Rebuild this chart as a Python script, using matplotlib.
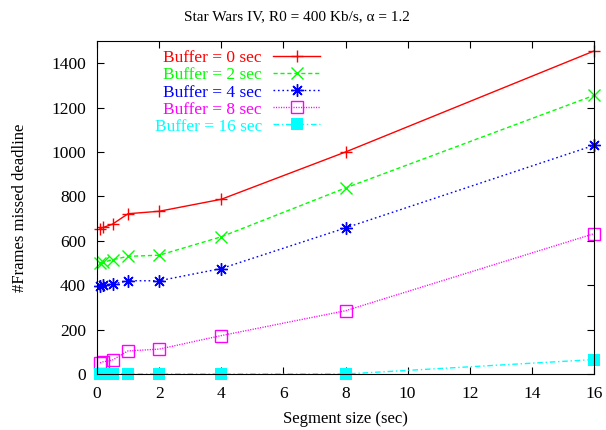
import matplotlib
matplotlib.use("Agg")
import matplotlib.pyplot as plt

plt.rcParams['font.family'] = ['Liberation Serif', 'DejaVu Serif']

# segment sizes (sec)
seg = [0.1, 0.2, 0.5, 1, 2, 4, 8, 16]

buf0 = [655, 660, 675, 722, 733, 787, 1000, 1455]
buf2 = [500, 503, 515, 530, 535, 618, 838, 1255]
buf4 = [398, 400, 405, 420, 420, 475, 658, 1030]
buf8 = [50, 55, 63, 104, 112, 173, 285, 632]
buf16 = [0, 0, 0, 0, 0, 0, 0, 65]

fig = plt.figure(figsize=(6.06, 4.30), dpi=100)
ax = fig.add_axes([97 / 606, 1 - 374 / 430, 497 / 606, 333 / 430])

common = dict(linewidth=1, clip_on=False)
ax.plot(seg, buf0, color='#ff0000', linestyle='-', marker='+',
        markersize=9, markeredgewidth=1, label='Buffer = 0 sec', **common)
ax.plot(seg, buf2, color='#00ff00', linestyle=(0, (3, 2)), marker='x',
        markersize=8, markeredgewidth=1, label='Buffer = 2 sec', **common)
ax.plot(seg, buf4, color='#0000ff', linestyle=(0, (1.2, 2)), marker=(8, 2, 0),
        markersize=9, markeredgewidth=1, label='Buffer = 4 sec', **common)
ax.plot(seg, buf8, color='#ff00ff', linestyle=(0, (0.8, 1)), marker='s',
        markersize=8, markerfacecolor='none', markeredgewidth=1,
        label='Buffer = 8 sec', **common)
ax.plot(seg, buf16, color='#00ffff', linestyle=(0, (4, 2, 1, 2)), marker='s',
        markersize=8, markeredgewidth=0, label='Buffer = 16 sec', **common)

ax.set_xlim(0, 16)
ax.set_ylim(0, 1500)
ax.set_xticks(range(0, 17, 2))
ax.set_yticks(range(0, 1401, 200))
ax.tick_params(direction='in', top=True, right=True, labelsize=12.5, length=5)
ax.tick_params(axis='y', pad=8)
ax.tick_params(axis='x', pad=9)

ax.set_xlabel('Segment size (sec)', fontsize=12, labelpad=6)
ax.set_ylabel('#Frames missed deadline', fontsize=12, labelpad=17)
# gnuplot centres the title on the whole canvas
fig.text(0.49, 1 - 17 / 430, 'Star Wars IV, R0 = 400 Kb/s, α = 1.2',
         fontsize=11, ha='center', va='center')

leg = ax.legend(loc='upper right', bbox_to_anchor=(0.449, 0.972), markerfirst=False,
                frameon=False, fontsize=12.5, handlelength=2.7, labelspacing=0.05,
                borderaxespad=0, borderpad=0, handletextpad=0.65)
for txt, line in zip(leg.get_texts(), leg.get_lines()):
    txt.set_color(line.get_color())
    txt.set_ha('right')

fig.savefig('out.png', dpi=100)
